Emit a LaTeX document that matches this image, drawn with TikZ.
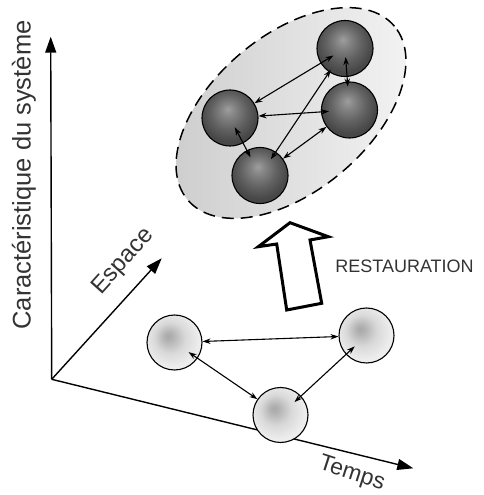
\documentclass[tikz,border=0pt]{standalone}
\usepackage{fontspec}
\setmainfont{Liberation Sans}
\usetikzlibrary{arrows.meta}
\pgfdeclareradialshading{darkball}{\pgfpoint{-2bp}{8bp}}{color(0bp)=(black!38); color(6bp)=(black!48); color(16bp)=(black!62); color(25bp)=(black!72); color(50bp)=(black!72)}
\pgfdeclareradialshading{lightball}{\pgfpoint{-6bp}{6bp}}{color(0bp)=(black!34); color(4bp)=(black!30); color(14bp)=(black!15); color(25bp)=(black!7); color(50bp)=(black!7)}

\begin{document}
\begin{tikzpicture}[x=1pt,y=1pt,>={Stealth[length=8pt,width=5.5pt]},
	axis/.style={line width=1.4pt,-{Triangle[length=16pt,width=11pt]}},
	dark/.style={circle,draw,line width=1.1pt,minimum size=56pt,inner sep=0pt,shade,shading=darkball},
	light/.style={circle,draw,line width=1.1pt,minimum size=55pt,inner sep=0pt,shade,shading=lightball},
	link/.style={<->,line width=1.1pt},
	lbl/.style={text=black!80,inner sep=0pt}]
	\useasboundingbox (0,0) rectangle (484,495);
	% axes
	\coordinate (o) at (51.7,115.7);
	\coordinate (ytip) at (50.7,458.3);
	\coordinate (etip) at (161.7,236.7);
	\coordinate (ttip) at (413.3,26.7);
	\draw[axis] (o) -- (ytip);
	\draw[axis] (o) -- (etip);
	\draw[axis] (o) -- (ttip);
	\node[lbl,rotate=90] (ylab) at (24,320) {\fontsize{25.5}{30}\selectfont Caractéristique du système};
	\node[lbl,rotate=48] (elab) at (123.5,233.5) {\fontsize{24}{28}\selectfont Espace};
	\node[lbl,rotate=-18] (tlab) at (351.7,21) {\fontsize{23}{28}\selectfont Temps};
	% restored cluster
	\draw[dash pattern=on 12pt off 7pt,line width=1.5pt,left color=black!20,right color=black!4,
		rotate around={40:(291,382)}] (291,382) ellipse (135 and 78);
	\node[dark] (q1) at (230,377) {};
	\node[dark] (q2) at (345,446.5) {};
	\node[dark] (q3) at (349.5,385) {};
	\node[dark] (q4) at (260,319.5) {};
	\draw[link,shorten >=-15pt] (q1) -- (q2);
	\draw[link,shorten <=-20pt,shorten >=-5pt] (q2) -- (q3);
	\draw[link,shorten >=-8pt] (q1) -- (q3);
	\draw[link,shorten <=-18pt,shorten >=-8pt] (q1) -- (q4);
	\draw[link,shorten <=-9pt,shorten >=-3pt] (q4) -- (q2);
	\draw[link] (q4) -- (q3);
	% big arrow
	\draw[line width=3pt,fill=white] (290,272.3) -- (328.3,258.3) -- (310,255) -- (321.7,191.7)
		-- (286.7,185) -- (276.7,251) -- (258.3,248.3) -- cycle;
	\node[lbl] (rest) at (404.5,229) {\fontsize{18}{22}\selectfont RESTAURATION};
	% scattered state
	\node[light] (p1) at (174.5,152.5) {};
	\node[light] (p2) at (366.5,159.5) {};
	\node[light] (p3) at (280.5,80) {};
	\draw[link] (p1) -- (p2);
	\draw[link,shorten <=-11pt] (p1) -- (p3);
	\draw[link,shorten <=-12pt,shorten >=-9pt] (p2) -- (p3);
\end{tikzpicture}
\end{document}
